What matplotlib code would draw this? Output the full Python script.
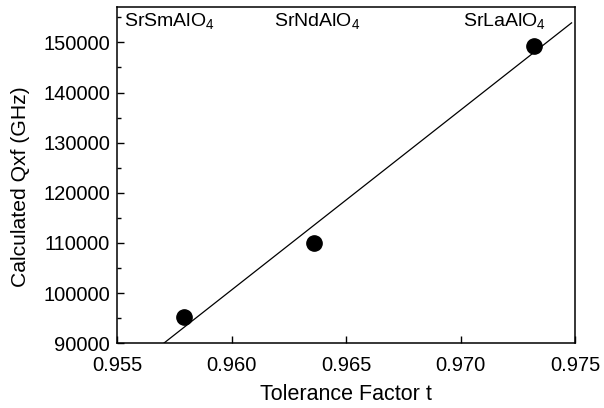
"""Calculated Qxf vs tolerance factor for SrLnAlO4."""
import numpy as np
import matplotlib; matplotlib.use("Agg")
import matplotlib.pyplot as plt
from matplotlib.ticker import MultipleLocator

plt.rcParams["font.family"] = ["Liberation Sans", "DejaVu Sans"]
plt.rcParams["mathtext.fontset"] = "custom"
plt.rcParams["mathtext.rm"] = "Liberation Sans"
plt.rcParams["mathtext.it"] = "Liberation Sans"

compounds = ["SrSmAlO$_4$", "SrNdAlO$_4$", "SrLaAlO$_4$"]
tol_factor = [0.9579, 0.9636, 0.9732]
qxf = [95300, 110000, 149300]
label_x = [0.9553, 0.96185, 0.9701]

fig = plt.figure(figsize=(6.04, 4.08), dpi=100)
ax = fig.add_axes([0.194, 0.159, 0.758, 0.823])

# linear fit through the three compounds
k, b = np.polyfit(tol_factor, qxf, 1)
xs = np.array([0.955, 0.97485])
ax.plot(xs, k * xs + b, color="black", lw=0.9)
ax.plot(tol_factor, qxf, "o", color="black", ms=11)

for name, lx in zip(compounds, label_x):
    ax.text(lx, 156300, name, fontsize=14, va="top", ha="left")

ax.set_xlim(0.955, 0.975)
ax.set_ylim(90000, 157000)
ax.xaxis.set_major_locator(MultipleLocator(0.005))
ax.yaxis.set_major_locator(MultipleLocator(10000))
ax.yaxis.set_minor_locator(MultipleLocator(5000))
ax.xaxis.set_major_formatter(plt.FormatStrFormatter("%.3f"))
ax.tick_params(direction="in", length=5, width=1, labelsize=14.5, pad=5)
ax.tick_params(axis="x", pad=9)
ax.tick_params(which="minor", direction="in", length=3, width=1)
for s in ax.spines.values():
    s.set_linewidth(1.1)
ax.set_xlabel("Tolerance Factor t", fontsize=15.5, labelpad=7)
ax.set_ylabel("Calculated Qxf (GHz)", fontsize=15.2)
ax.yaxis.set_label_coords(-0.19, 0.465)

fig.savefig("out.png", dpi=100)
